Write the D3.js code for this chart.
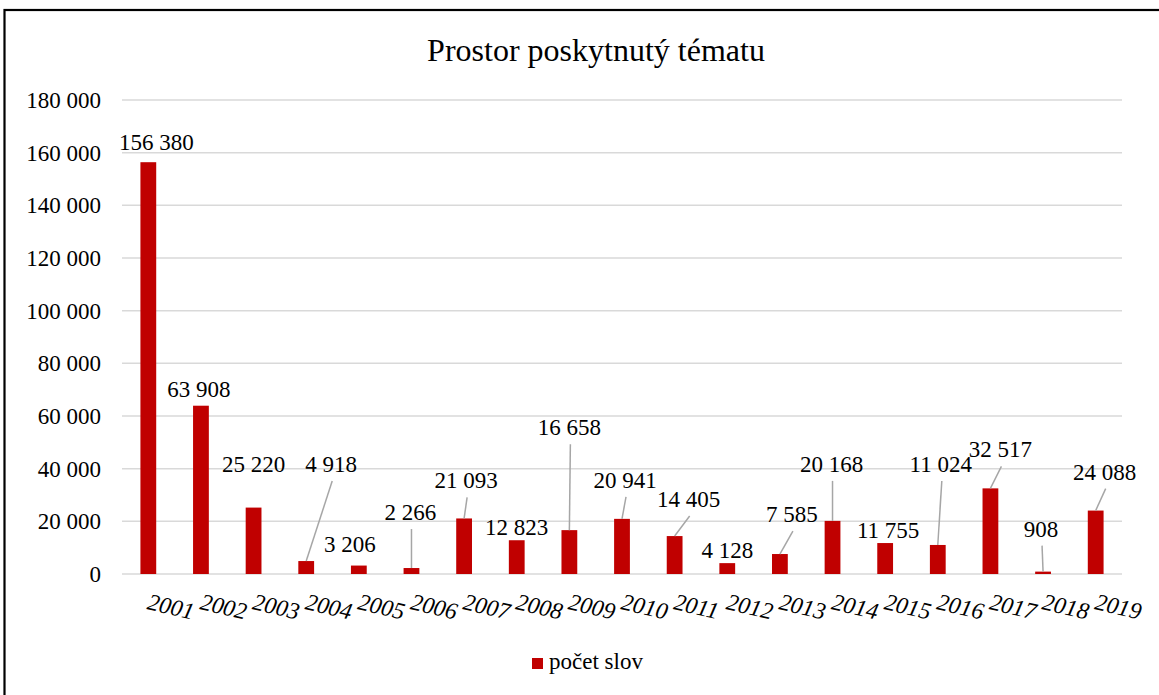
<!DOCTYPE html>
<html lang="cs">
<head>
<meta charset="utf-8">
<title>Prostor poskytnutý tématu</title>
<script src="https://cdn.jsdelivr.net/npm/d3@7"></script>
<style>
  body { margin: 0; background: #fff; }
  svg { display: block; font-family: "Liberation Serif", "Times New Roman", serif; }
</style>
</head>
<body>
<script>
// data
var years = ["2001", "2002", "2003", "2004", "2005", "2006", "2007", "2008", "2009", "2010",
             "2011", "2012", "2013", "2014", "2015", "2016", "2017", "2018", "2019"];
var values = [156380, 63908, 25220, 4918, 3206, 2266, 21093, 12823, 16658, 20941,
              14405, 4128, 7585, 20168, 11755, 11024, 32517, 908, 24088];
var yTicks = [0, 20000, 40000, 60000, 80000, 100000, 120000, 140000, 160000, 180000];
var seriesName = "počet slov";

// label placement (pixel offsets from the bar top) and leader lines
var labelDx = [8, -2, 0, 25, -9, -1, 2, 0, 0, 3, 14, 0, 12, -1, 3, 3, 10, -2, 9];
var labelDy = [-12, -9, -36, -89, -14, -48, -30, -5, -95, -31, -29, -5, -32, -49, -5, -73, -31, -35, -31];
var leaders = [0, 0, 0, 1, 0, 1, 1, 0, 1, 1, 1, 0, 1, 1, 0, 1, 1, 1, 1];

var width = 1159, height = 695;
var plotLeft = 122, plotRight = 1122, plotTop = 100, plotBottom = 574;
var barColor = "#c00000";

var loc = d3.formatLocale({ decimal: ",", thousands: " ", grouping: [3], currency: ["", ""] });
var fmt = loc.format(",");

var svg = d3.select("body").append("svg")
  .attr("width", width)
  .attr("height", height);

// frame
svg.append("rect")
  .attr("x", 4.5).attr("y", 10)
  .attr("width", 1200).attr("height", 720)
  .attr("fill", "#fff")
  .attr("stroke", "#000")
  .attr("stroke-width", 2.2);

var x = d3.scaleBand()
  .domain(years)
  .range([plotLeft, plotRight])
  .paddingInner(0.7)
  .paddingOuter(0.35);

var y = d3.scaleLinear()
  .domain([0, 180000])
  .range([plotBottom, plotTop]);

// gridlines
svg.append("g").selectAll("line")
  .data(yTicks)
  .enter().append("line")
  .attr("x1", plotLeft).attr("x2", plotRight)
  .attr("y1", d => y(d)).attr("y2", d => y(d))
  .attr("stroke", "#d9d9d9")
  .attr("stroke-width", 1.5);

// y axis labels
var yAxis = d3.axisLeft(y).tickValues(yTicks).tickFormat(fmt).tickSize(0).tickPadding(0);
var gy = svg.append("g").attr("transform", "translate(" + (plotLeft - 21) + ",0)").call(yAxis);
gy.select(".domain").remove();
gy.selectAll("text")
  .attr("font-family", "Liberation Serif, serif")
  .attr("font-size", "23px")
  .attr("fill", "#000")
  .attr("dy", "0.32em");

// bars
var idx = d3.range(values.length);
var cx = i => x(years[i]) + x.bandwidth() / 2;

svg.append("g").selectAll("rect")
  .data(idx)
  .enter().append("rect")
  .attr("x", i => x(years[i]))
  .attr("y", i => y(values[i]))
  .attr("width", x.bandwidth())
  .attr("height", i => y(0) - y(values[i]))
  .attr("fill", barColor);

// leader lines
svg.append("g").selectAll("line")
  .data(idx.filter(i => leaders[i]))
  .enter().append("line")
  .attr("x1", i => cx(i) + labelDx[i] + 1)
  .attr("y1", i => y(values[i]) + labelDy[i] + 9)
  .attr("x2", i => cx(i))
  .attr("y2", i => y(values[i]))
  .attr("stroke", "#a6a6a6")
  .attr("stroke-width", 1.5);

// data labels
svg.append("g").selectAll("text")
  .data(idx)
  .enter().append("text")
  .attr("x", i => cx(i) + labelDx[i])
  .attr("y", i => y(values[i]) + labelDy[i])
  .attr("text-anchor", "middle")
  .attr("font-size", "23px")
  .attr("fill", "#000")
  .text(i => fmt(values[i]));

// x labels (rotated, italic)
svg.append("g").selectAll("text")
  .data(years)
  .enter().append("text")
  .attr("transform", d => "translate(" + (x(d) + x.bandwidth() / 2 - 2) + ",609) rotate(13)")
  .attr("font-size", "23.5px")
  .attr("font-style", "italic")
  .attr("fill", "#000")
  .text(d => d);

// title
svg.append("text")
  .attr("x", 596).attr("y", 61)
  .attr("text-anchor", "middle")
  .attr("font-size", "32px")
  .attr("fill", "#000")
  .text("Prostor poskytnutý tématu");

// legend
svg.append("rect")
  .attr("x", 532).attr("y", 658)
  .attr("width", 11).attr("height", 11)
  .attr("fill", barColor);
svg.append("text")
  .attr("x", 549).attr("y", 669)
  .attr("font-size", "23px")
  .attr("fill", "#000")
  .text(seriesName);
</script>
</body>
</html>
